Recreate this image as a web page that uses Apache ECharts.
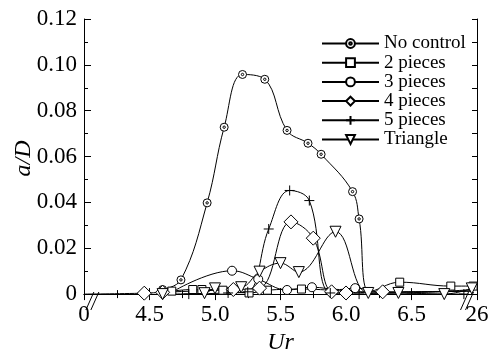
<!DOCTYPE html>
<html>
<head>
<meta charset="utf-8">
<script src="https://cdn.jsdelivr.net/npm/echarts@6/dist/echarts.min.js"></script>
<style>html,body{margin:0;padding:0;background:#fff}#c{width:489px;height:356px}</style>
</head>
<body>
<div id="c"></div>
<script>
// x positions: 4.0 on the axis stands for Ur = 0, 7.0 stands for Ur = 26 (broken axis)
var seriesNames = ['No control', '2 pieces', '3 pieces', '4 pieces', '5 pieces', 'Triangle'];
var xTickLabels = {4: '0', 4.5: '4.5', 5: '5.0', 5.5: '5.5', 6: '6.0', 6.5: '6.5', 7: '26'};
var yTickLabels = [0, 0.02, 0.04, 0.06, 0.08, 0.10, 0.12];
var yMinorTicks = [0, 0.01, 0.02, 0.03, 0.04, 0.05, 0.06, 0.07, 0.08, 0.09, 0.10, 0.11, 0.12];

var noControl = [[4.6,0.002],[4.74,0.0062],[4.94,0.0398],[5.07,0.0728],[5.21,0.0958],[5.38,0.0937],[5.55,0.0714],[5.71,0.0658],[5.81,0.0610],[6.05,0.0447],[6.1,0.0328],[6.19,0.0003],[6.45,0.001],[6.97,0.0012]];
var noControlHidden = [11, 12, 13];
var twoPieces = [[4.67,0.0013],[4.83,0.002],[4.9,0.002],[5.06,0.0017],[5.26,0.0005],[5.4,0.0017],[5.66,0.0022],[5.95,0.0015],[6.15,0.001],[6.41,0.0052],[6.8,0.0035],[6.97,0.0035]];
var twoHidden = [7, 8];
var threePieces = [[4.66,0.0005],[5.13,0.0102],[5.33,0.0065],[5.55,0.0018],[5.74,0.003],[5.95,0.002],[6.07,0.0026],[6.3,0.0005],[6.97,0.0015]];
var threeHidden = [0, 5, 7, 8];
var fourPieces = [[4.0,0],[4.46,0.0004],[4.6,0.0008],[5.14,0.002],[5.34,0.0026],[5.58,0.0315],[5.75,0.0244],[5.89,0.001],[6.0,0.0005],[6.28,0.001],[6.6,0.001],[6.97,0.002]];
var fourHidden = [0, 10, 11];
var fivePieces = [[4.8,0.0],[5.1,0.0005],[5.25,0.001],[5.41,0.0284],[5.57,0.0452],[5.72,0.0408],[5.88,0.0005],[6.1,0.0],[6.5,0.0],[6.9,0.0]];
var fiveHidden = [];
var triangle = [[4.6,0.0],[4.92,0.0004],[5.0,0.0025],[5.2,0.003],[5.34,0.0098],[5.5,0.0135],[5.64,0.0096],[5.92,0.0272],[6.17,0.0005],[6.4,0.0005],[6.75,0.0],[6.96,0.0025]];
var triHidden = [];

var FONT = 'Liberation Serif';
var symDotCircle = 'path://M0,-10A10,10,0,1,1,0,10A10,10,0,1,1,0,-10ZM0,-3A3,3,0,1,1,0,3A3,3,0,1,1,0,-3Z';
var symDown = 'path://M0,9L-10,-8L10,-8Z';
var symPlus = 'path://M-10,0L10,0M0,-10L0,10';

function mk(data, hidden) {
  return data.map(function (p, i) {
    return hidden.indexOf(i) >= 0 ? {value: p, symbol: 'none'} : {value: p};
  });
}
function ser(name, data, hidden, symbol, size) {
  return {
    name: name, type: 'line', smooth: 0.4, data: mk(data, hidden),
    symbol: symbol, symbolSize: size, showAllSymbol: true, clip: false,
    lineStyle: {color: '#000', width: 1},
    itemStyle: {color: '#fff', borderColor: '#000', borderWidth: 1},
    emphasis: {disabled: true}, z: 3
  };
}

var chart = echarts.init(document.getElementById('c'), null, {renderer: 'canvas'});
var axisLine = {show: true, lineStyle: {color: '#000', width: 1}};
var option = {
  animation: false,
  backgroundColor: '#fff',
  grid: {left: 84, right: 12, top: 19, bottom: 58, containLabel: false, outerBoundsMode: 'none'},
  legend: {
    orient: 'vertical', left: 316, top: 29,
    itemWidth: 57, itemHeight: 11, itemGap: 0.2,
    textStyle: {fontFamily: FONT, fontSize: 19, color: '#000', lineHeight: 18},
    data: seriesNames
  },
  xAxis: [{
    type: 'value', min: 4, max: 7, interval: 0.5,
    axisLine: axisLine,
    axisTick: {show: true, inside: true, length: 6, lineStyle: {color: '#000'}},
    minorTick: {show: true, splitNumber: 2, length: 4, lineStyle: {color: '#000'}},
    splitLine: {show: false}, minorSplitLine: {show: false},
    axisLabel: {fontFamily: FONT, fontSize: 23, color: '#000', margin: 5,
      showMinLabel: true, showMaxLabel: true,
      formatter: function (v) { var k = Math.round(v * 100) / 100; return xTickLabels[k] !== undefined ? xTickLabels[k] : ''; }},
    name: 'Ur', nameLocation: 'middle', nameGap: 33,
    nameTextStyle: {fontFamily: FONT, fontSize: 24, fontStyle: 'italic', color: '#000'}
  }, {
    type: 'value', position: 'top', min: 4, max: 7, interval: 0.5,
    axisLine: axisLine,
    axisTick: {show: true, inside: true, length: 6, lineStyle: {color: '#000'}},
    minorTick: {show: true, splitNumber: 2, length: 4, lineStyle: {color: '#000'}},
    splitLine: {show: false}, axisLabel: {show: false}
  }],
  yAxis: [{
    type: 'value', min: -0.0017, max: 0.12,
    axisLine: axisLine,
    axisTick: {show: true, inside: true, length: 7, customValues: yTickLabels, lineStyle: {color: '#000'}},
    splitLine: {show: false},
    axisLabel: {fontFamily: FONT, fontSize: 23, color: '#000', margin: 7, customValues: yTickLabels,
      formatter: function (v) { return Math.abs(v) < 1e-9 ? '0' : v.toFixed(2); }},
    name: 'a/D', nameLocation: 'middle', nameGap: 48, nameMoveOverlap: false,
    nameTextStyle: {fontFamily: FONT, fontSize: 24, fontStyle: 'italic', color: '#000'}
  }, {
    type: 'value', position: 'left', offset: 0, min: -0.0017, max: 0.12,
    axisLine: {show: false},
    axisTick: {show: true, inside: true, length: 4, customValues: yMinorTicks, lineStyle: {color: '#000'}},
    splitLine: {show: false}, axisLabel: {show: false}
  }, {
    type: 'value', position: 'right', min: -0.0017, max: 0.12,
    axisLine: axisLine,
    axisTick: {show: true, inside: true, length: 5, customValues: yMinorTicks, lineStyle: {color: '#000'}},
    splitLine: {show: false}, axisLabel: {show: false}
  }],
  series: [
    ser(seriesNames[0], noControl, noControlHidden, symDotCircle, 8),
    ser(seriesNames[1], twoPieces, twoHidden, 'rect', 8),
    ser(seriesNames[2], threePieces, threeHidden, 'circle', 9),
    ser(seriesNames[3], fourPieces, fourHidden, 'diamond', 14),
    ser(seriesNames[4], fivePieces, fiveHidden, symPlus, 10),
    ser(seriesNames[5], triangle, triHidden, symDown, 11)
  ]
};
chart.setOption(option);

// axis break marks "//" near both ends of the x axis
function breakMarks(xv) {
  var p = chart.convertToPixel({gridIndex: 0}, [xv, -0.0017]);
  var els = [];
  [0, 5].forEach(function (off) {
    els.push({type: 'line', shape: {x1: p[0] - 6 + off, y1: p[1] + 12, x2: p[0] + 2 + off, y2: p[1] - 6},
      style: {stroke: '#000', lineWidth: 1}, z: 10});
  });
  return els;
}
chart.setOption({graphic: breakMarks(4.06).concat(breakMarks(6.92))});
</script>
</body>
</html>
